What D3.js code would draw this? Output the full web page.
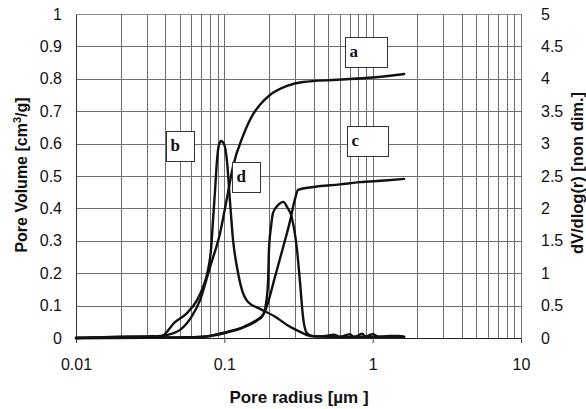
<!DOCTYPE html>
<html>
<head>
<meta charset="utf-8">
<script src="https://cdn.jsdelivr.net/npm/d3@7"></script>
<style>
  html, body { margin: 0; padding: 0; background: #fff; }
  svg { display: block; }
</style>
</head>
<body>
<svg id="chart" width="586" height="409"></svg>
<script>
// ---- data ----
const xTickValues = [0.01, 0.1, 1, 10];
const xTickLabels = ["0.01", "0.1", "1", "10"];
const leftTicks = [0, 0.1, 0.2, 0.3, 0.4, 0.5, 0.6, 0.7, 0.8, 0.9, 1];
const leftTickLabels = ["0", "0.1", "0.2", "0.3", "0.4", "0.5", "0.6", "0.7", "0.8", "0.9", "1"];
const rightTicks = [0, 0.5, 1, 1.5, 2, 2.5, 3, 3.5, 4, 4.5, 5];
const rightTickLabels = ["0", "0.5", "1", "1.5", "2", "2.5", "3", "3.5", "4", "4.5", "5"];

// cumulative pore volume (left axis, cm3/g)
const seriesA_r = [0.01, 0.02, 0.03, 0.037, 0.045, 0.0503, 0.06, 0.0686, 0.0801, 0.0936, 0.104, 0.1145, 0.134, 0.156, 0.174, 0.203, 0.265, 0.339, 0.575, 1.0, 1.63];
const seriesA_v = [0, 0.003, 0.005, 0.006, 0.014, 0.025, 0.065, 0.117, 0.219, 0.324, 0.43, 0.53, 0.625, 0.69, 0.72, 0.75, 0.778, 0.79, 0.797, 0.804, 0.815];

const seriesC_r = [0.01, 0.03, 0.05, 0.0686, 0.104, 0.134, 0.166, 0.182, 0.194, 0.22, 0.249, 0.277, 0.3, 0.314, 0.4, 0.6, 0.82, 1.2, 1.63];
const seriesC_v = [0, 0.001, 0.002, 0.003, 0.017, 0.032, 0.054, 0.07, 0.1, 0.19, 0.28, 0.36, 0.43, 0.457, 0.466, 0.474, 0.481, 0.486, 0.491];

// pore size distribution (right axis, dV/dlog(r))
const seriesB_r = [0.01, 0.015, 0.02, 0.03, 0.0368, 0.0465, 0.056, 0.0655, 0.0718, 0.0776, 0.0813, 0.0839, 0.0866, 0.0893, 0.092, 0.0951, 0.1, 0.104, 0.109, 0.1145, 0.122, 0.1316, 0.1445, 0.174, 0.227, 0.265, 0.324, 0.378, 0.5, 1.0, 1.63];
const seriesB_v = [0, 0.01, 0.02, 0.02, 0.015, 0.245, 0.385, 0.585, 0.785, 1.05, 1.36, 1.82, 2.28, 2.75, 2.98, 3.04, 2.98, 2.75, 2.13, 1.51, 1.08, 0.74, 0.556, 0.45, 0.31, 0.2, 0.095, 0.03, 0.02, 0.02, 0.02];

const seriesD_r = [0.01, 0.03, 0.05, 0.0686, 0.104, 0.134, 0.166, 0.182, 0.19, 0.197, 0.2, 0.2065, 0.213, 0.23, 0.25, 0.265, 0.284, 0.309, 0.324, 0.339, 0.36, 0.39, 0.45, 0.55, 0.6, 0.7, 0.75, 0.85, 0.9, 1.0, 1.1, 1.3, 1.5, 1.63];
const seriesD_v = [0, 0.005, 0.01, 0.015, 0.095, 0.17, 0.28, 0.355, 0.5, 0.85, 1.36, 1.72, 1.93, 2.05, 2.1, 2.02, 1.87, 1.36, 0.85, 0.33, 0.075, 0.03, 0.025, 0.05, 0.015, 0.06, 0.015, 0.065, 0.02, 0.06, 0.02, 0.03, 0.03, 0.015];

const labelNames = ["a", "b", "c", "d"];
const labelR = [0.652, 0.0404, 0.672, 0.1127];
const labelV = [0.929, 0.639, 0.654, 0.543];

// ---- layout ----
const svg = d3.select("#chart");
const L = 76, R = 521, T = 14, B = 338;

const x = d3.scaleLog().domain([0.01, 10]).range([L, R]);
const yL = d3.scaleLinear().domain([0, 1]).range([B, T]);
const yR = d3.scaleLinear().domain([0, 5]).range([B, T]);

// grid
const gridX = [];
[0.01, 0.1, 1].forEach(d => { for (let k = 1; k <= 9; k++) gridX.push(d * k); });
gridX.push(10);

const grid = svg.append("g");
grid.selectAll("line.v").data(gridX).enter().append("line")
  .attr("x1", d => Math.round(x(d)) + 0.5).attr("x2", d => Math.round(x(d)) + 0.5)
  .attr("y1", T).attr("y2", B)
  .attr("stroke", "#6e6e6e").attr("stroke-width", 1);
grid.selectAll("line.h").data(leftTicks.slice(1)).enter().append("line")
  .attr("x1", L).attr("x2", R)
  .attr("y1", d => Math.round(yL(d)) + 0.5).attr("y2", d => Math.round(yL(d)) + 0.5)
  .attr("stroke", "#6e6e6e").attr("stroke-width", 1);

// axes
const fontTick = "'Liberation Sans', Arial, sans-serif";
const xAxis = d3.axisBottom(x).tickValues(xTickValues)
  .tickFormat((d, i) => xTickLabels[i]).tickSize(5).tickPadding(16);
const gx = svg.append("g").attr("transform", `translate(0,${B})`).call(xAxis);
gx.select(".domain").attr("stroke", "#222");
gx.selectAll(".tick line").attr("stroke", "#444");
gx.selectAll("text").attr("font-family", fontTick).attr("font-size", 16).attr("fill", "#111");

const yAxisL = d3.axisLeft(yL).tickValues(leftTicks)
  .tickFormat((d, i) => leftTickLabels[i]).tickSize(0).tickPadding(14);
const gyl = svg.append("g").attr("transform", `translate(${L},0)`).call(yAxisL);
gyl.select(".domain").attr("stroke", "#333");
gyl.selectAll("text").attr("font-family", fontTick).attr("font-size", 16).attr("fill", "#111");

const yAxisR = d3.axisRight(yR).tickValues(rightTicks)
  .tickFormat((d, i) => rightTickLabels[i]).tickSize(0).tickPadding(20);
const gyr = svg.append("g").attr("transform", `translate(${R},0)`).call(yAxisR);
gyr.select(".domain").attr("stroke", "#777");
gyr.selectAll("text").attr("font-family", fontTick).attr("font-size", 16).attr("fill", "#111");

// top border
svg.append("line").attr("x1", L).attr("x2", R).attr("y1", T + 0.5).attr("y2", T + 0.5)
  .attr("stroke", "#888");

// curves
const lineL = d3.line().x(d => x(d[0])).y(d => yL(d[1])).curve(d3.curveMonotoneX);
const lineR = d3.line().x(d => x(d[0])).y(d => yR(d[1])).curve(d3.curveMonotoneX);
const zip = (a, b) => a.map((v, i) => [v, b[i]]);

const curves = svg.append("g").attr("fill", "none").attr("stroke", "#111")
  .attr("stroke-width", 2.4).attr("stroke-linejoin", "round").attr("stroke-linecap", "round");
curves.append("path").attr("d", lineR(zip(seriesD_r, seriesD_v)));
curves.append("path").attr("d", lineR(zip(seriesB_r, seriesB_v)));
curves.append("path").attr("d", lineL(zip(seriesC_r, seriesC_v)));
curves.append("path").attr("d", lineL(zip(seriesA_r, seriesA_v)));

// label boxes
const boxW = [42, 28, 41, 28];
const labels = svg.append("g");
labelNames.forEach((n, i) => {
  const bx = Math.round(x(labelR[i])) + 0.5, by = Math.round(yL(labelV[i])) + 0.5;
  labels.append("rect").attr("x", bx).attr("y", by).attr("width", boxW[i]).attr("height", 30)
    .attr("fill", "#fff").attr("stroke", "#333").attr("stroke-width", 1);
  labels.append("text").attr("x", bx + 4).attr("y", by + 19)
    .attr("font-family", "'Liberation Serif', 'Times New Roman', serif")
    .attr("font-weight", "bold").attr("font-size", 17).attr("fill", "#111").text(n);
});

// titles
svg.append("text").attr("x", 299).attr("y", 403).attr("text-anchor", "middle")
  .attr("font-family", fontTick).attr("font-weight", "bold").attr("font-size", 17).attr("fill", "#111")
  .text("Pore radius [\u00b5m ]");

const lt = svg.append("text").attr("transform", "translate(27,175) rotate(-90)")
  .attr("text-anchor", "middle")
  .attr("font-family", fontTick).attr("font-weight", "bold").attr("font-size", 16).attr("fill", "#111");
lt.append("tspan").text("Pore Volume [cm");
lt.append("tspan").attr("font-size", 11).attr("dy", -6).text("3");
lt.append("tspan").attr("dy", 6).text("/g]");

svg.append("text").attr("transform", "translate(583,173) rotate(-90)")
  .attr("text-anchor", "middle")
  .attr("font-family", fontTick).attr("font-weight", "bold").attr("font-size", 16.5).attr("fill", "#111")
  .text("dV/dlog(r) [non dim.]");
</script>
</body>
</html>
